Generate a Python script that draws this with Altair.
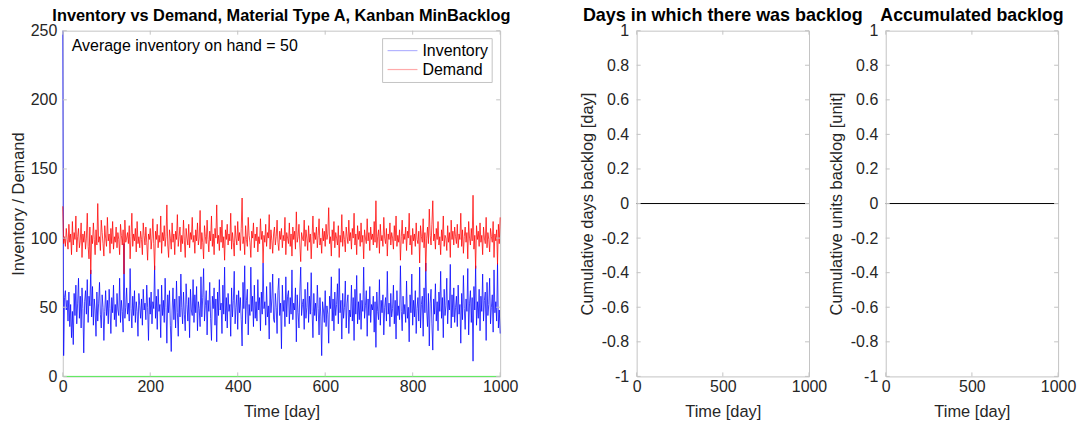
import altair as alt
import pandas as pd

# ---------------- data ----------------
days = list(range(0, 1001, 2))

demand = [
    123, 96, 101, 94, 107, 99, 92, 110, 97, 103, 88, 112, 95, 104, 99, 116, 90, 101, 107, 93, 98, 111, 86, 103, 97,
    105, 92, 100, 118, 94, 85, 108, 74, 102, 96, 111, 99, 88, 106, 95, 125, 97, 101, 91, 113, 104, 96, 87, 109, 100,
    94, 115, 98, 103, 89, 107, 96, 112, 92, 101, 97, 108, 93, 104, 99, 88, 110, 102, 95, 106, 74, 113, 97, 100, 104,
    96, 109, 85, 101, 118, 94, 103, 98, 107, 90, 112, 96, 101, 93, 105, 99, 88, 111, 102, 95, 108, 97, 84, 103, 99,
    107, 92, 100, 114, 96, 77, 105, 99, 110, 93, 102, 97, 116, 89, 104, 98, 109, 94, 101, 124, 95, 86, 106, 100, 92,
    111, 97, 103, 88, 105, 99, 117, 94, 101, 108, 90, 102, 96, 113, 98, 86, 107, 100, 95, 110, 93, 104, 99, 115, 97,
    102, 89, 106, 98, 111, 95, 100, 120, 92, 104, 97, 85, 109, 101, 96, 113, 99, 90, 105, 98, 116, 94, 103, 88, 107,
    100, 124, 96, 102, 91, 108, 97, 113, 93, 101, 84, 106, 99, 110, 95, 103, 98, 118, 92, 104, 97, 87, 109, 100, 95,
    112, 98, 104, 91, 107, 129, 96, 101, 88, 109, 99, 94, 115, 102, 97, 86, 105, 100, 111, 93, 103, 98, 108, 90, 101,
    96, 114, 99, 105, 82, 102, 97, 110, 94, 104, 100, 117, 92, 106, 98, 89, 103, 108, 95, 101, 113, 97, 91, 105, 99,
    107, 93, 102, 98, 115, 88, 104, 100, 96, 111, 94, 103, 87, 108, 99, 105, 92, 119, 97, 101, 110, 95, 83, 104, 100,
    98, 113, 94, 106, 100, 91, 109, 97, 103, 85, 101, 116, 96, 104, 99, 108, 93, 102, 114, 95, 100, 89, 107, 98, 105,
    94, 110, 99, 103, 122, 96, 101, 87, 106, 98, 112, 93, 104, 100, 95, 109, 86, 102, 97, 117, 94, 105, 99, 90, 108,
    101, 96, 113, 98, 104, 92, 107, 100, 118, 95, 103, 88, 109, 99, 105, 94, 111, 97, 102, 85, 106, 100, 96, 114, 98,
    104, 91, 108, 99, 103, 95, 112, 97, 127, 93, 101, 106, 89, 110, 98, 102, 94, 115, 100, 96, 107, 87, 103, 99, 111,
    95, 104, 100, 92, 109, 98, 116, 94, 102, 97, 106, 84, 101, 113, 96, 103, 99, 108, 91, 105, 100, 118, 95, 102, 88,
    107, 98, 103, 94, 111, 99, 96, 105, 82, 109, 101, 97, 114, 93, 104, 76, 100, 108, 96, 121, 102, 95, 110, 127, 98,
    103, 92, 107, 99, 112, 95, 101, 88, 106, 98, 116, 94, 102, 100, 91, 109, 97, 104, 86, 113, 99, 105, 95, 108, 101,
    96, 110, 93, 103, 99, 118, 94, 106, 89, 101, 108, 97, 104, 85, 112, 100, 95, 107, 98, 131, 92, 102, 78, 109, 99,
    105, 94, 111, 97, 102, 88, 108, 100, 96, 115, 93, 104, 99, 90, 107, 101, 97, 112, 86, 103, 98, 106, 81, 110, 96,
    115,
]

inventory = [
    250, 15, 57, 62, 48, 55, 40, 61, 36, 52, 28, 47, 23, 60, 44, 66, 38, 53, 71, 42, 58, 35, 64, 49, 17,
    54, 62, 45, 70, 39, 58, 51, 77, 43, 65, 37, 56, 48, 29, 61, 40, 53, 68, 45, 35, 59, 50, 26, 47, 62,
    44, 55, 38, 63, 49, 31, 57, 46, 66, 41, 52, 36, 60, 48, 44, 71, 39, 55, 47, 32, 96, 42, 50, 64, 45,
    53, 40, 78, 49, 35, 58, 44, 62, 39, 54, 47, 29, 60, 51, 42, 56, 37, 63, 48, 53, 41, 66, 50, 26, 57,
    45, 61, 38, 54, 49, 80, 42, 58, 34, 63, 47, 52, 28, 66, 44, 55, 39, 71, 50, 24, 59, 46, 62, 37, 18,
    48, 64, 41, 56, 35, 69, 46, 29, 58, 43, 74, 50, 38, 61, 45, 33, 67, 52, 40, 57, 28, 63, 48, 44, 70,
    39, 59, 46, 65, 33, 54, 49, 36, 72, 43, 57, 78, 40, 51, 62, 30, 55, 47, 68, 42, 26, 58, 49, 64, 37,
    56, 25, 61, 44, 70, 48, 53, 31, 66, 45, 79, 40, 57, 35, 60, 47, 52, 29, 64, 43, 55, 76, 38, 50, 59,
    34, 62, 46, 57, 41, 22, 68, 49, 80, 38, 55, 63, 30, 52, 44, 79, 47, 58, 36, 66, 42, 54, 40, 70, 48,
    57, 33, 61, 45, 82, 49, 54, 37, 65, 43, 51, 27, 68, 46, 56, 74, 41, 39, 60, 50, 31, 62, 71, 44, 53,
    20, 66, 47, 55, 36, 72, 43, 58, 62, 38, 57, 45, 77, 41, 53, 48, 64, 25, 59, 46, 35, 61, 79, 44, 52,
    56, 34, 63, 42, 50, 68, 39, 58, 45, 75, 47, 28, 60, 44, 53, 40, 66, 49, 30, 57, 43, 15, 54, 48, 39,
    62, 36, 51, 45, 24, 58, 49, 72, 40, 56, 33, 61, 44, 52, 67, 38, 78, 46, 55, 27, 60, 42, 50, 69, 35,
    53, 59, 31, 48, 43, 66, 40, 57, 26, 63, 45, 73, 38, 54, 41, 60, 34, 55, 47, 79, 42, 51, 62, 29, 56,
    44, 65, 39, 52, 48, 58, 32, 54, 21, 61, 47, 41, 70, 37, 55, 46, 59, 30, 50, 57, 40, 76, 45, 53, 36,
    60, 43, 49, 66, 38, 55, 27, 62, 44, 51, 41, 80, 47, 33, 58, 45, 52, 39, 69, 42, 50, 25, 59, 46, 74,
    37, 55, 43, 62, 31, 49, 57, 40, 79, 35, 52, 58, 29, 64, 46, 82, 48, 36, 60, 22, 53, 63, 38, 19, 56,
    45, 67, 40, 54, 33, 61, 47, 76, 42, 57, 28, 63, 44, 51, 71, 38, 55, 48, 81, 35, 59, 43, 64, 39, 50,
    58, 36, 66, 45, 52, 24, 60, 41, 73, 49, 34, 56, 47, 78, 30, 53, 62, 39, 57, 11, 65, 48, 80, 37, 54,
    42, 63, 33, 58, 47, 74, 40, 55, 61, 26, 68, 44, 52, 71, 38, 50, 59, 32, 77, 46, 54, 40, 82, 35, 48,
    31,
]

backlog_days = [0, 1000]
backlog_zero = [0, 0]

legend_labels = ["Inventory", "Demand"]
annotation = ["Average inventory on hand = 50"]

x_ticks_main = [0, 200, 400, 600, 800, 1000]
y_ticks_main = [0, 50, 100, 150, 200, 250]
x_ticks_small = [0, 500, 1000]
y_ticks_small = [-1, -0.8, -0.6, -0.4, -0.2, 0, 0.2, 0.4, 0.6, 0.8, 1]

# ---------------- style ----------------
FONT = "Liberation Sans"
GRAY = "#262626"
BOX = "#c4c4c4"
W1, H = 439, 347
W2 = 173
LBL = 16
TTL = 16.5

AXSTYLE = dict(ticks=False, grid=False, domain=False, labelFont=FONT, titleFont=FONT,
               labelFontSize=LBL, titleFontSize=TTL, labelColor=GRAY, titleColor=GRAY,
               titleFontWeight="normal", labelOverlap=False)

n = min(len(days), len(demand), len(inventory))
df = pd.DataFrame({"day": days[:n], "Inventory": inventory[:n], "Demand": demand[:n]})
zero_df = pd.DataFrame({"day": backlog_days, "v": backlog_zero})


def title(text, size):
    return alt.TitleParams(text=text, fontSize=size, font=FONT, fontWeight="bold",
                           color="black", offset=-2, anchor="middle", frame="group")


def inner_ticks(xvals, yvals, xs, ys, xax, yax, w, h, L=4):
    xdf = pd.DataFrame({"v": xvals})
    ydf = pd.DataFrame({"v": yvals})
    base_x = alt.Chart(xdf).mark_rule(color=BOX, strokeWidth=1)
    base_y = alt.Chart(ydf).mark_rule(color=BOX, strokeWidth=1)
    xe = alt.X("v:Q", scale=xs, axis=xax)
    ye = alt.Y("v:Q", scale=ys, axis=yax)
    return [
        base_x.encode(x=xe, y=alt.value(h), y2=alt.value(h - L)),
        base_x.encode(x=xe, y=alt.value(0), y2=alt.value(L)),
        base_y.encode(y=ye, x=alt.value(0), x2=alt.value(L)),
        base_y.encode(y=ye, x=alt.value(w), x2=alt.value(w - L)),
    ]


# ---------------- panel 1 ----------------
xs1 = alt.Scale(domain=[0, 1000], nice=False, zero=False)
ys1 = alt.Scale(domain=[0, 250], nice=False)

x_ax1 = alt.Axis(values=x_ticks_main, title="Time [day]", format="d", labelFlush=False,
                 labelPadding=2, titlePadding=9, **AXSTYLE)
y_ax1 = alt.Axis(values=y_ticks_main, title="Inventory / Demand", format="d",
                 labelPadding=6, titlePadding=4, **AXSTYLE)

X1 = alt.X("day:Q", scale=xs1, axis=x_ax1)

inv_line = alt.Chart(df).mark_line(color="#0000ff", strokeWidth=0.75).encode(
    x=X1, y=alt.Y("Inventory:Q", scale=ys1, axis=y_ax1),
)
dem_line = alt.Chart(df).mark_line(color="#ff0000", strokeWidth=0.75).encode(
    x=X1, y=alt.Y("Demand:Q", scale=ys1, axis=y_ax1),
)
green_line = alt.Chart(zero_df).mark_line(color="#33ee33", strokeWidth=0.8).encode(
    x=X1, y=alt.Y("v:Q", scale=ys1, axis=y_ax1),
)

ann = alt.Chart(pd.DataFrame({"t": annotation})).mark_text(
    align="left", baseline="middle", font=FONT, fontSize=16, color="black"
).encode(x=alt.value(9), y=alt.value(15), text="t:N")

leg_box = alt.Chart(pd.DataFrame({"a": [0]})).mark_rect(
    fill="white", stroke=BOX, strokeWidth=1
).encode(x=alt.value(321), x2=alt.value(431), y=alt.value(8), y2=alt.value(52))
leg_inv_line = alt.Chart(pd.DataFrame({"a": [0]})).mark_rule(color="#b4b4ff", strokeWidth=1.2).encode(
    x=alt.value(326), x2=alt.value(356), y=alt.value(20))
leg_dem_line = alt.Chart(pd.DataFrame({"a": [0]})).mark_rule(color="#ffaaaa", strokeWidth=1.2).encode(
    x=alt.value(326), x2=alt.value(356), y=alt.value(39))
leg_inv_txt = alt.Chart(pd.DataFrame({"t": legend_labels[:1]})).mark_text(
    align="left", baseline="middle", font=FONT, fontSize=16, color="black"
).encode(x=alt.value(361), y=alt.value(20), text="t:N")
leg_dem_txt = alt.Chart(pd.DataFrame({"t": legend_labels[1:]})).mark_text(
    align="left", baseline="middle", font=FONT, fontSize=16, color="black"
).encode(x=alt.value(361), y=alt.value(39), text="t:N")

p1 = alt.layer(
    inv_line, dem_line, green_line,
    *inner_ticks(x_ticks_main, y_ticks_main, xs1, ys1, x_ax1, y_ax1, W1, H),
    ann, leg_box, leg_inv_line, leg_dem_line, leg_inv_txt, leg_dem_txt,
).properties(width=W1, height=H,
             title=title("Inventory vs Demand, Material Type A, Kanban MinBacklog", 16.4))


# ---------------- panels 2 & 3 ----------------
def small_panel(ttl, ytitle, size):
    xs = alt.Scale(domain=[0, 1000], nice=False, zero=False)
    ys = alt.Scale(domain=[-1, 1], nice=False)
    x_ax = alt.Axis(values=x_ticks_small, title="Time [day]", format="d", labelFlush=False,
                    labelPadding=2, titlePadding=9, **AXSTYLE)
    y_ax = alt.Axis(values=y_ticks_small, title=ytitle, labelExpr="datum.value + ''",
                    labelPadding=8, titlePadding=6, **AXSTYLE)
    line = alt.Chart(zero_df).mark_line(color="black", strokeWidth=1).encode(
        x=alt.X("day:Q", scale=xs, axis=x_ax),
        y=alt.Y("v:Q", scale=ys, axis=y_ax),
    )
    return alt.layer(line, *inner_ticks(x_ticks_small, y_ticks_small, xs, ys, x_ax, y_ax, W2, H)).properties(
        width=W2, height=H, title=title(ttl, size))


p2 = small_panel("Days in which there was backlog", "Cumulative days backlog [day]", 18)
p3 = small_panel("Accumulated backlog", "Cumulative units backlog [unit]", 17.8)

right = alt.hconcat(p2, p3, spacing=77, bounds="flush")
chart = alt.hconcat(p1, right, spacing=137, bounds="flush").properties(
    padding={"left": 9, "top": 5, "right": 4, "bottom": 4}, background="white"
).configure_view(stroke=BOX, strokeWidth=1)

chart.save("out.html", embed_options={"renderer": "svg", "actions": False})
